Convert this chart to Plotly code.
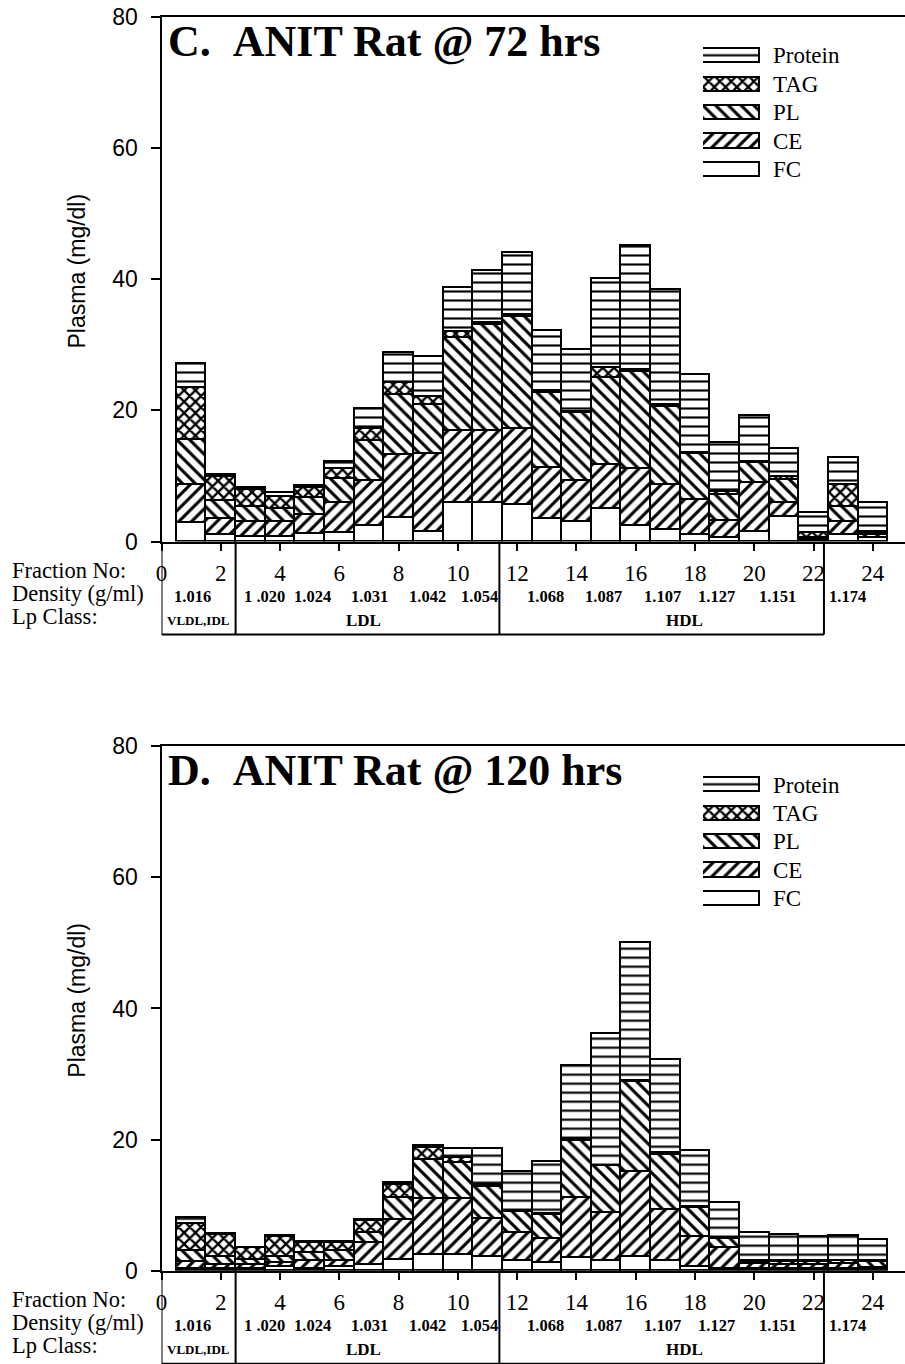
import plotly.graph_objects as go

# ---------------------------------------------------------------------------
# Lipoprotein composition per density-gradient fraction (plasma, mg/dl)
# ---------------------------------------------------------------------------
fractions = list(range(1, 25))
components = ["FC", "CE", "PL", "TAG", "Protein"]

# Panel C: ANIT rat at 72 hrs
c_fc = [2.8, 1.0, 0.7, 0.7, 1.1, 1.3, 2.4, 3.6, 1.5, 5.9, 5.9, 5.6,
        3.5, 2.9, 4.9, 2.4, 1.7, 1.0, 0.5, 1.5, 3.8, 0.3, 1.0, 0.5]
c_ce = [5.8, 2.5, 2.3, 2.3, 2.9, 4.5, 6.9, 9.6, 11.8, 11.0, 11.0, 11.5,
        7.7, 6.4, 6.8, 8.6, 6.9, 5.3, 2.7, 7.4, 2.0, 0.2, 2.0, 0.5]
c_pl = [6.9, 2.7, 2.2, 1.9, 2.6, 3.7, 6.1, 9.1, 7.5, 14.1, 16.1, 17.2,
        11.4, 10.3, 13.2, 14.9, 11.9, 7.0, 3.9, 3.1, 3.6, 0.1, 2.2, 0.1]
c_tag = [7.9, 3.6, 2.6, 1.9, 1.5, 1.5, 1.7, 1.9, 1.3, 1.0, 0.4, 0.3,
         0.4, 0.2, 1.5, 0.3, 0.3, 0.2, 0.5, 0.2, 0.4, 0.7, 3.4, 0.4]
c_protein = [3.7, 0.3, 0.3, 0.6, 0.3, 1.1, 3.1, 4.6, 6.0, 6.6, 7.8, 9.4,
             9.1, 9.4, 13.7, 18.9, 17.5, 11.9, 7.4, 7.0, 4.3, 3.1, 4.2, 4.3]

# Panel D: ANIT rat at 120 hrs
d_fc = [0.2, 0.2, 0.2, 0.6, 0.3, 0.6, 0.9, 1.6, 2.4, 2.4, 2.0, 1.4,
        1.2, 1.9, 1.4, 2.0, 1.4, 0.6, 0.3, 0.2, 0.2, 0.2, 0.2, 0.2]
d_ce = [1.1, 0.7, 0.7, 0.5, 1.1, 0.8, 3.3, 6.1, 8.5, 8.5, 5.8, 4.3,
        3.6, 9.1, 7.3, 13.1, 7.9, 4.5, 3.1, 0.8, 0.7, 0.6, 0.8, 0.2]
d_pl = [1.6, 1.2, 0.7, 0.9, 1.2, 1.6, 1.5, 3.3, 5.9, 5.5, 5.0, 3.2,
        3.7, 8.7, 7.2, 13.6, 8.3, 4.4, 1.4, 0.3, 0.4, 0.5, 0.4, 0.9]
d_tag = [4.2, 3.3, 1.8, 3.1, 1.6, 1.2, 1.8, 2.1, 1.9, 0.8, 0.3, 0.1,
         0.1, 0.3, 0.1, 0.2, 0.3, 0.2, 0.1, 0.1, 0.1, 0.1, 0.1, 0.1]
d_protein = [0.9, 0.1, 0.1, 0.2, 0.2, 0.2, 0.2, 0.3, 0.3, 1.4, 5.5, 6.0,
             8.0, 11.2, 20.1, 21.0, 14.2, 8.6, 5.4, 4.3, 4.0, 3.7, 3.8, 3.3]

panel_titles = ["C.\u00a0\u00a0ANIT Rat @ 72 hrs", "D.\u00a0\u00a0ANIT Rat @ 120 hrs"]
panel_series = [
    [c_fc, c_ce, c_pl, c_tag, c_protein],
    [d_fc, d_ce, d_pl, d_tag, d_protein],
]

fraction_ticks = list(range(0, 25, 2))
density_labels = ["1.016", "1 .020", "1.024", "1.031", "1.042", "1.054",
                  "1.068", "1.087", "1.107", "1.127", "1.151", "1.174"]
density_at = [1.06, 3.46, 5.11, 7.03, 8.99, 10.74,
              12.97, 14.9, 16.89, 18.71, 20.77, 23.16]
lp_classes = ["VLDL,IDL", "LDL", "HDL"]
lp_class_at = [1.24, 6.83, 17.63]
lp_class_sizes = [13, 17, 17]
class_bounds = [0, 2.5, 11.4, 22.35]

# ---------------------------------------------------------------------------
# Styling
# ---------------------------------------------------------------------------
W, H = 905, 1364
SERIF = "Liberation Serif"
SANS = "Liberation Sans"


def hatch(shape, size=9, solidity=0.4):
    return dict(shape=shape, size=size, solidity=solidity,
                fgcolor="black", bgcolor="white", fgopacity=1)


patterns = {
    "FC": dict(shape=""),
    "CE": hatch("/", 9, 0.34),
    "PL": hatch("\\", 9, 0.34),
    "TAG": hatch("x", 8, 0.5),
    "Protein": hatch("-", 9, 0.24),
}


def py(px):
    """Convert a pixel row (from the top) into paper coordinates."""
    return 1 - px / H


x_left = 161.5
px_per_fraction = 29.64
x_range = [0, (W - x_left) / px_per_fraction]

# pixel rows of the zero line / top of each panel
panel_zero = [541.5, 1270.7]
panel_top = [17.0, 746.2]
legend_first_row = [56.0, 785.0]
legend_row_step = 28.4

fig = go.Figure()
annotations = []
shapes = []

for p in range(2):
    xa = "x" if p == 0 else "x2"
    ya = "y" if p == 0 else "y2"
    lxa = "x3" if p == 0 else "x4"
    lya = "y3" if p == 0 else "y4"

    for name, vals in zip(components, panel_series[p]):
        fig.add_trace(go.Bar(
            x=fractions, y=vals, name=name, xaxis=xa, yaxis=ya,
            width=1.0, showlegend=False,
            marker=dict(color="white", line=dict(color="black", width=1.8),
                        pattern=patterns[name]),
            hoverinfo="skip",
        ))

    # legend swatches, one row per component (Protein on top)
    for i, name in enumerate(components):
        fig.add_trace(go.Bar(
            x=[1], y=[i], orientation="h", width=0.5, xaxis=lxa, yaxis=lya,
            showlegend=False, hoverinfo="skip",
            marker=dict(color="white", line=dict(color="black", width=1.6),
                        pattern=patterns[name]),
        ))
        annotations.append(dict(
            x=771 / W, xref="paper", y=i, yref=lya, text=name, showarrow=False,
            xanchor="left", yanchor="middle",
            font=dict(family=SERIF, size=23, color="black"),
        ))

    z = panel_zero[p]

    # panel title
    annotations.append(dict(
        x=166 / W, xref="paper", y=py(panel_top[p] + 24.5), yref="paper",
        text=panel_titles[p], showarrow=False, xanchor="left", yanchor="middle",
        font=dict(family=SERIF, size=44, color="black", weight="bold"),
    ))

    # y-axis title
    annotations.append(dict(
        x=77 / W, xref="paper", y=py(z - 270), yref="paper",
        text="Plasma (mg/dl)", textangle=-90, showarrow=False,
        xanchor="center", yanchor="middle",
        font=dict(family=SANS, size=23, color="black"),
    ))

    # row captions below the axis
    for txt, dy in [("Fraction No:", 29), ("Density (g/ml)", 52), ("Lp Class:", 75)]:
        annotations.append(dict(
            x=10 / W, xref="paper", y=py(z + dy), yref="paper", text=txt,
            showarrow=False, xanchor="left", yanchor="middle",
            font=dict(family=SERIF, size=22.5, color="black"),
        ))

    for txt, xv in zip(density_labels, density_at):
        annotations.append(dict(
            x=xv, xref=xa, y=py(z + 55), yref="paper", text=txt,
            showarrow=False, xanchor="center", yanchor="middle",
            font=dict(family=SERIF, size=16.5, color="black", weight="bold"),
        ))

    for txt, xv, fs in zip(lp_classes, lp_class_at, lp_class_sizes):
        annotations.append(dict(
            x=xv, xref=xa, y=py(z + 79), yref="paper", text=txt,
            showarrow=False, xanchor="center", yanchor="middle",
            font=dict(family=SERIF, size=fs, color="black", weight="bold"),
        ))

    # lipoprotein class boxes under the axis
    box_bottom = py(z + 93)
    for xb in class_bounds:
        shapes.append(dict(type="line", xref=xa, yref="paper",
                           x0=xb, x1=xb, y0=py(z), y1=box_bottom,
                           line=dict(color="black", width=2)))
    shapes.append(dict(type="line", xref=xa, yref="paper",
                       x0=class_bounds[0], x1=class_bounds[-1],
                       y0=box_bottom, y1=box_bottom,
                       line=dict(color="black", width=2)))

x_dom = [x_left / W, 1.0]
xaxis_style = dict(
    range=x_range, domain=x_dom, tickmode="array", tickvals=fraction_ticks,
    ticktext=[str(t) for t in fraction_ticks], ticks="outside", ticklen=7,
    tickwidth=1.5, tickcolor="black", showline=True, linecolor="black",
    linewidth=2, mirror=True, showgrid=False, zeroline=False,
    tickfont=dict(family=SERIF, size=23, color="black"), ticklabelstandoff=3,
    automargin=False,
)
yaxis_style = dict(
    range=[0, 80], tickmode="array", tickvals=[0, 20, 40, 60, 80],
    ticks="outside", ticklen=9, tickwidth=1.5, tickcolor="black",
    showline=True, linecolor="black", linewidth=2, mirror=False,
    showgrid=False, zeroline=False, automargin=False,
    tickfont=dict(family=SANS, size=23, color="black"), ticklabelstandoff=8,
)

legend_axis_x = dict(domain=[703 / W, 760 / W], range=[0, 1], visible=False,
                     automargin=False)
legend_axis_y = dict(range=[-0.5, 4.5], visible=False, automargin=False)

fig.update_layout(
    width=W, height=H, margin=dict(l=0, r=0, t=0, b=0, pad=0),
    paper_bgcolor="white", plot_bgcolor="white",
    barmode="stack", bargap=0,
    xaxis=dict(**xaxis_style, anchor="y"),
    yaxis=dict(**yaxis_style, anchor="x",
               domain=[py(panel_zero[0]), py(panel_top[0])]),
    xaxis2=dict(**xaxis_style, anchor="y2"),
    yaxis2=dict(**yaxis_style, anchor="x2",
                domain=[py(panel_zero[1]), py(panel_top[1])]),
    xaxis3=dict(**legend_axis_x, anchor="y3"),
    yaxis3=dict(**legend_axis_y, anchor="x3",
                domain=[py(legend_first_row[0] + 4.5 * legend_row_step),
                        py(legend_first_row[0] - 0.5 * legend_row_step)]),
    xaxis4=dict(**legend_axis_x, anchor="y4"),
    yaxis4=dict(**legend_axis_y, anchor="x4",
                domain=[py(legend_first_row[1] + 4.5 * legend_row_step),
                        py(legend_first_row[1] - 0.5 * legend_row_step)]),
    annotations=annotations,
    shapes=shapes,
    showlegend=False,
)

fig.write_html("out.html")
